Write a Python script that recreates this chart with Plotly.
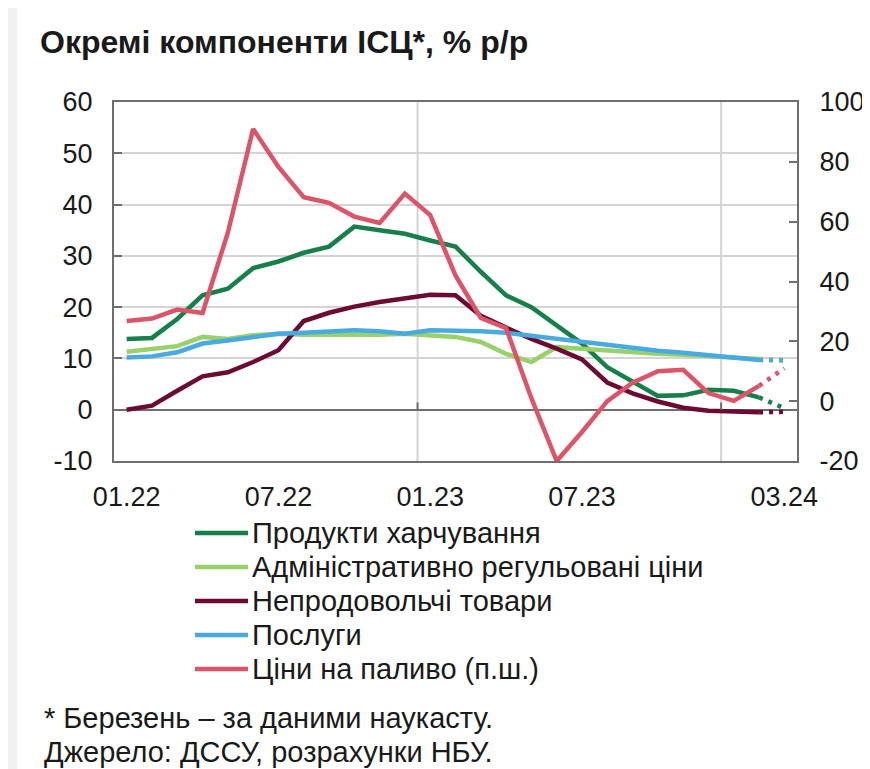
import plotly.graph_objects as go

months = ["01.22", "02.22", "03.22", "04.22", "05.22", "06.22", "07.22", "08.22", "09.22",
          "10.22", "11.22", "12.22", "01.23", "02.23", "03.23", "04.23", "05.23", "06.23",
          "07.23", "08.23", "09.23", "10.23", "11.23", "12.23", "01.24", "02.24", "03.24"]
shown_ticks = ["01.22", "07.22", "01.23", "07.23", "03.24"]
left_ticks = [-10, 0, 10, 20, 30, 40, 50, 60]
right_ticks = [-20, 0, 20, 40, 60, 80, 100]

food = [13.8, 14.0, 17.7, 22.3, 23.6, 27.6, 28.9, 30.6, 31.8, 35.7, 35.0, 34.3, 33.0, 31.8,
        26.9, 22.3, 20.0, 16.4, 12.9, 8.3, 5.6, 2.7, 2.8, 3.9, 3.7, 2.4, 0.3]
admin = [11.3, 11.9, 12.4, 14.2, 13.8, 14.5, 14.8, 14.6, 14.6, 14.5, 14.6, 14.8, 14.5, 14.2,
         13.2, 10.9, 9.3, 12.2, 11.9, 11.5, 11.2, 10.9, 10.7, 10.4, 10.2, 9.9, 9.7]
nonfood = [0.0, 0.8, 3.7, 6.5, 7.3, 9.3, 11.6, 17.3, 18.9, 20.1, 21.0, 21.6, 22.4, 22.3,
           18.3, 16.0, 13.8, 11.9, 9.8, 5.3, 3.2, 1.6, 0.4, -0.2, -0.4, -0.5, -0.4]
services = [10.2, 10.4, 11.2, 12.9, 13.5, 14.2, 14.8, 15.0, 15.2, 15.5, 15.3, 14.8, 15.5, 15.5,
            15.3, 15.0, 14.4, 13.8, 13.2, 12.7, 12.2, 11.5, 11.1, 10.6, 10.1, 9.7, 9.6]
fuel = [26.8, 27.6, 30.6, 29.5, 56.3, 91.0, 78.3, 68.2, 66.3, 61.7, 59.6, 69.4, 62.2, 42.0,
        27.8, 24.4, 1.0, -20.0, -10.3, 0.0, 6.2, 10.0, 10.5, 2.7, 0.1, 5.1, 11.0]

names = ["Продукти харчування", "Адміністративно регульовані ціни", "Непродовольчі товари",
         "Послуги", "Ціни на паливо (п.ш.)"]
series = [food, admin, nonfood, services, fuel]
colors = ["#17804A", "#98D06A", "#6B0A33", "#48AADE", "#DC5468"]
axes = ["y", "y", "y", "y", "y2"]

FONT = "Liberation Sans"
TXT = "#1a1a1a"
GRID = "#d4d4d4"
AXC = "#6e6e6e"

# page body has an 8px margin: the figure is placed at (8, 8) of the 870x769 window
OFF = 8
SW, SH = 870, 769
W, H = SW - OFF, SH - OFF
L, R, T, B = 114, 797, 102, 461  # plot area in window pixels


def px_x(p):
    return (p - L) / (R - L)


def px_y(p):
    return (B - p) / (B - T)


fig = go.Figure()
n_solid = len(months) - 1  # last month is a nowcast (dotted)
for name, vals, col, ax in zip(names, series, colors, axes):
    fig.add_trace(go.Scatter(x=months[:n_solid], y=vals[:n_solid], name=name, yaxis=ax,
                             mode="lines", line=dict(color=col, width=4.5)))
for name, vals, col, ax in zip(names, series, colors, axes):
    fig.add_trace(go.Scatter(x=months[n_solid - 1:], y=vals[n_solid - 1:], name=name, yaxis=ax,
                             mode="lines", showlegend=False,
                             line=dict(color=col, width=4.5, dash="4px,6px")))

shapes = []
# light grey strip on the left of the screenshot
shapes.append(dict(type="rect", xref="paper", yref="paper", x0=px_x(0), x1=px_x(17),
                   y0=px_y(775), y1=px_y(0), fillcolor="#f1f1f1", line=dict(width=0),
                   layer="below"))
# vertical gridlines at year boundaries
for i, m in enumerate(months):
    if m.startswith("01.") and i > 0:
        shapes.append(dict(type="line", xref="x", yref="paper", x0=i - 0.5, x1=i - 0.5,
                           y0=0, y1=1, line=dict(color=GRID, width=2), layer="below"))
        shapes.append(dict(type="line", xref="x", yref="y", x0=i - 0.5, x1=i - 0.5,
                           y0=0, y1=1.4, line=dict(color=AXC, width=2), layer="above"))

# legend (line samples + labels below the chart)
annotations = []
leg_top = 533
leg_step = 34
for k, (name, col) in enumerate(zip(names, colors)):
    yk = px_y(leg_top + k * leg_step)
    shapes.append(dict(type="line", xref="paper", yref="paper", x0=px_x(195), x1=px_x(248),
                       y0=yk, y1=yk, line=dict(color=col, width=4.5)))
    annotations.append(dict(text=name, xref="paper", yref="paper", x=px_x(250), y=yk,
                            xanchor="left", yanchor="middle", showarrow=False,
                            font=dict(family=FONT, size=29, color=TXT)))

annotations += [
    dict(text="* Березень – за даними наукасту.", xref="paper", yref="paper",
         x=px_x(42), y=px_y(718), xanchor="left", yanchor="middle", showarrow=False,
         font=dict(family=FONT, size=29, color=TXT)),
    dict(text="Джерело: ДССУ, розрахунки НБУ.", xref="paper", yref="paper",
         x=px_x(42), y=px_y(752), xanchor="left", yanchor="middle", showarrow=False,
         font=dict(family=FONT, size=29, color=TXT)),
]

fig.update_layout(
    width=W, height=H,
    margin=dict(l=L - OFF, r=SW - R, t=T - OFF, b=SH - B, pad=0, autoexpand=False),
    paper_bgcolor="white", plot_bgcolor="rgba(0,0,0,0)",
    font=dict(family=FONT, size=27, color=TXT),
    title=dict(text="<b>Окремі компоненти ІСЦ*, % р/р</b>", x=(40 - OFF) / W, xanchor="left",
               y=1 - (42 - OFF) / H, yanchor="middle", yref="container",
               font=dict(family=FONT, size=32, color=TXT)),
    showlegend=False,
    xaxis=dict(type="category", range=[-0.5, len(months) - 0.5], tickvals=shown_ticks,
               ticktext=shown_ticks, showgrid=False, ticks="", showline=True, mirror=True,
               linecolor=AXC, linewidth=2, ticklabelstandoff=11, automargin=False,
               tickfont=dict(family=FONT, size=27, color=TXT)),
    yaxis=dict(range=[-10, 60], tickvals=left_ticks, ticktext=[str(v) for v in left_ticks],
               showgrid=True, gridcolor=GRID,
               gridwidth=2, zeroline=True, zerolinecolor=AXC, zerolinewidth=2,
               showline=True, linecolor=AXC, linewidth=2, ticks="inside", ticklen=8,
               tickcolor=AXC, tickwidth=2, ticklabelstandoff=14, automargin=False,
               tickfont=dict(family=FONT, size=27, color=TXT)),
    yaxis2=dict(range=[-20, 100], tickvals=right_ticks, ticktext=[str(v) for v in right_ticks],
                overlaying="y", side="right",
                showgrid=False, zeroline=False, showline=True, linecolor=AXC,
                linewidth=2, ticks="inside", ticklen=8, tickcolor=AXC, tickwidth=2,
                ticklabelstandoff=15, automargin=False,
                tickfont=dict(family=FONT, size=27, color=TXT)),
    shapes=shapes,
    annotations=annotations,
)

fig.write_html("out.html")
